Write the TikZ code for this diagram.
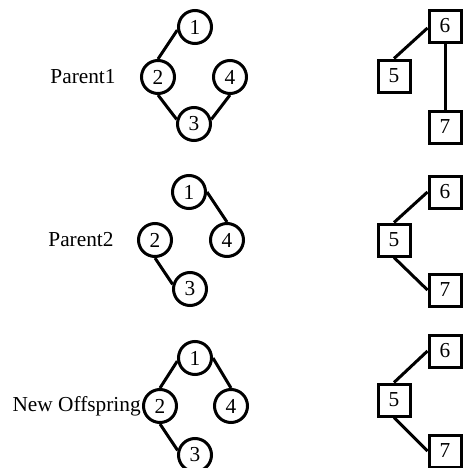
\documentclass[tikz,border=0pt]{standalone}
\usepackage{fontspec}
\setmainfont{Liberation Serif}
\begin{document}
\begin{tikzpicture}[x=0.75pt,y=-0.75pt,
  circ/.style={circle,draw,line width=2.25pt,minimum size=24.75pt,inner sep=0pt,font=\fontsize{16}{16}\selectfont},
  sq/.style={rectangle,draw,line width=2.25pt,minimum size=24pt,inner sep=0pt,font=\fontsize{16}{16}\selectfont},
  lbl/.style={font=\fontsize{16}{16}\selectfont,inner sep=0pt},
  edge/.style={line width=2.25pt}]
\useasboundingbox (0,0) rectangle (465,468);
% Row 1
\node[lbl] (t1) at (83,77) {Parent1};
\node[circ] (a1) at (195,27) {1};
\node[circ] (a2) at (158,77) {2};
\node[circ] (a4) at (230,77) {4};
\node[circ] (a3) at (194,124) {3};
\draw[edge] (a1.190) -- (a2.north);
\draw[edge] (a2.south) -- (a3.165);
\draw[edge] (a3.15) -- (a4.south);
\node[sq] (s6a) at (445,26) {6};
\node[sq] (s5a) at (394,76) {5};
\node[sq] (s7a) at (445,127) {7};
\draw[edge] (s6a.west) ++(0,2) -- (s5a.north);
\draw[edge] (s6a.south) -- (s7a.north);
% Row 2
\node[lbl] (t2) at (81,240) {Parent2};
\node[circ] (b1) at (189,192) {1};
\node[circ] (b2) at (155,240) {2};
\node[circ] (b4) at (227,240) {4};
\node[circ] (b3) at (190,289) {3};
\draw[edge] (b1.east) -- (b4.north);
\draw[edge] (b2.south) -- (b3.165);
\node[sq] (s6b) at (445,192) {6};
\node[sq] (s5b) at (394,240) {5};
\node[sq] (s7b) at (445,290) {7};
\draw[edge] (s5b.north) -- (s6b.west);
\draw[edge] (s5b.south) -- (s7b.west);
% Row 3
\node[lbl,anchor=east] (t3) at (141,406) {New Offspring};
\node[circ] (c1) at (195,358) {1};
\node[circ] (c2) at (160,406) {2};
\node[circ] (c4) at (231,406) {4};
\node[circ] (c3) at (195,455) {3};
\draw[edge] (c1.190) -- (c2.north);
\draw[edge] (c1.east) -- (c4.north);
\draw[edge] (c2.south) -- (c3.165);
\node[sq] (s6c) at (445,351) {6};
\node[sq] (s5c) at (394,400) {5};
\node[sq] (s7c) at (445,451) {7};
\draw[edge] (s5c.north) -- (s6c.west);
\draw[edge] (s5c.south) -- (s7c.west);
\end{tikzpicture}
\end{document}
